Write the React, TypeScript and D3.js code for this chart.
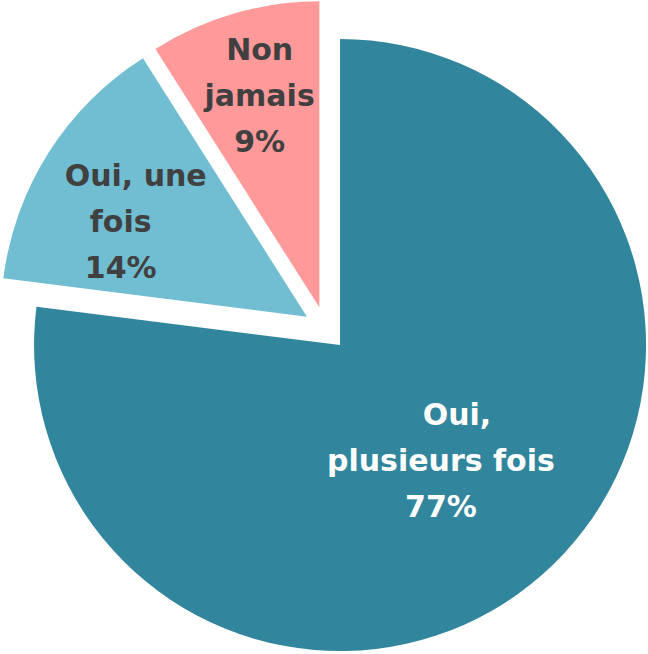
import React from "react";
import * as d3 from "d3";

const categories = ["Oui, plusieurs fois", "Oui, une fois", "Non jamais"];
const values = [77, 14, 9];
const labelLines = [
  ["Oui,", "plusieurs fois", "77%"],
  ["Oui, une", "fois", "14%"],
  ["Non", "jamais", "9%"],
];
const colors = ["#31859C", "#71BDD1", "#FF999A"];
const textColors = ["#FFFFFF", "#404040", "#404040"];
// label anchor: radius as fraction of R, angle as fraction of the slice span
const labelRadius = [0.528, 0.668, 0.686];
const labelAngleFrac = [0.51, 0.34, 0.49];
const firstLineDx = [16, 15, 0];

const W = 648;
const H = 654;
const cx = 325.5;
const cy = 328.5;
const R = 306;
const explode = 22;
const fontSize = 30;
const lineH = 46;

export default function App() {
  const pie = d3
    .pie<number>()
    .sort(null)
    .value((d) => d)
    .startAngle(0)
    .endAngle(2 * Math.PI);
  const arcs = pie(values);
  const arc = d3.arc<d3.PieArcDatum<number>>().innerRadius(0).outerRadius(R);

  return (
    <svg
      width={W}
      height={H}
      style={{ position: "absolute", left: 0, top: 0, background: "#fff" }}
    >
      <g transform={`translate(${cx},${cy})`}>
        {arcs.map((a, i) => {
          const mid = (a.startAngle + a.endAngle) / 2;
          const dx = Math.sin(mid) * explode;
          const dy = -Math.cos(mid) * explode;
          const la = a.startAngle + (a.endAngle - a.startAngle) * labelAngleFrac[i];
          const lr = R * labelRadius[i];
          const lx = Math.sin(la) * lr;
          const ly = -Math.cos(la) * lr;
          const lines = labelLines[i];
          return (
            <g key={categories[i]} transform={`translate(${dx},${dy})`}>
              <path d={arc(a) || ""} fill={colors[i]} />
              <text
                textAnchor="middle"
                fill={textColors[i]}
                fontFamily="'Century Gothic', 'DejaVu Sans', sans-serif"
                fontWeight="bold"
                fontSize={fontSize}
              >
                {lines.map((t, j) => (
                  <tspan
                    key={j}
                    x={lx + (j === 0 ? firstLineDx[i] : 0)}
                    y={ly + (j - 1) * lineH}
                  >
                    {t}
                  </tspan>
                ))}
              </text>
            </g>
          );
        })}
      </g>
    </svg>
  );
}
